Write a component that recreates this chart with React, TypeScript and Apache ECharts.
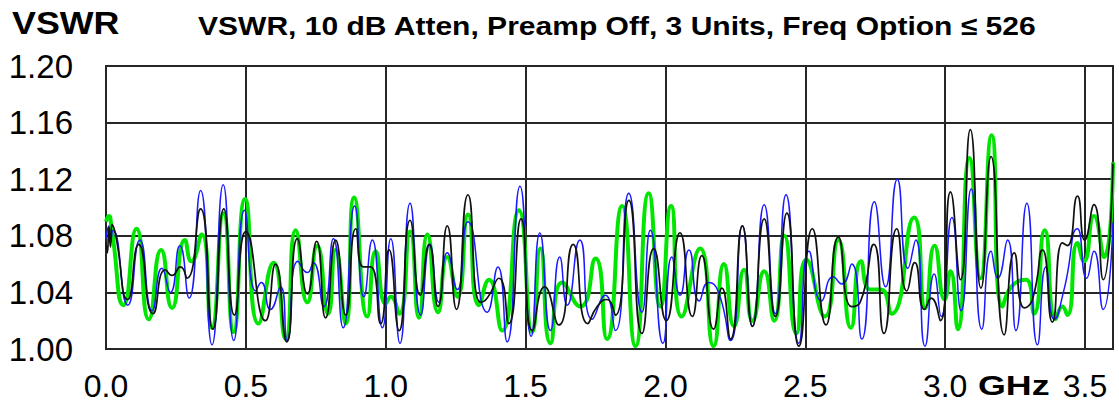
import React, { useEffect, useRef } from "react";
import * as echarts from "echarts";

const chartTitle = "VSWR, 10 dB Atten, Preamp Off, 3 Units, Freq Option ≤ 526";
const yAxisTitle = "VSWR";
const xAxisUnit = "GHz";

const xTicks = [0, 0.5, 1.0, 1.5, 2.0, 2.5, 3.0, 3.5];
const yTicks = [1.0, 1.04, 1.08, 1.12, 1.16, 1.2];

// [frequency GHz, VSWR]
const blackUnit = [
  [0.0, 1.075], [0.005, 1.068], [0.010, 1.086], [0.016, 1.072], [0.021, 1.088], [0.033, 1.082],
  [0.078, 1.035], [0.117, 1.074], [0.168, 1.025], [0.212, 1.056], [0.236, 1.052], [0.266, 1.058],
  [0.290, 1.050], [0.338, 1.099], [0.382, 1.014], [0.421, 1.099], [0.459, 1.024], [0.500, 1.083],
  [0.570, 1.020], [0.606, 1.060], [0.646, 1.005], [0.684, 1.078], [0.720, 1.039], [0.753, 1.076],
  [0.785, 1.022], [0.821, 1.077], [0.857, 1.024], [0.893, 1.085], [0.920, 1.058], [0.946, 1.058],
  [0.982, 1.018], [1.012, 1.070], [1.048, 1.013], [1.087, 1.091], [1.123, 1.038], [1.155, 1.074],
  [1.187, 1.030], [1.220, 1.087], [1.253, 1.028], [1.294, 1.109], [1.339, 1.033], [1.363, 1.036],
  [1.405, 1.050], [1.440, 1.018], [1.484, 1.092], [1.524, 1.013], [1.568, 1.044], [1.619, 1.017],
  [1.670, 1.074], [1.722, 1.018], [1.756, 1.030], [1.791, 1.035], [1.821, 1.024], [1.869, 1.105],
  [1.916, 1.011], [1.958, 1.071], [2.003, 1.020], [2.052, 1.082], [2.096, 1.023], [2.130, 1.066],
  [2.172, 1.014], [2.202, 1.043], [2.233, 1.007], [2.275, 1.087], [2.311, 1.016], [2.353, 1.092],
  [2.393, 1.023], [2.434, 1.096], [2.477, 1.002], [2.525, 1.085], [2.574, 1.017], [2.618, 1.079],
  [2.666, 1.030], [2.696, 1.033], [2.745, 1.074], [2.781, 1.011], [2.827, 1.085], [2.863, 1.041],
  [2.891, 1.061], [2.926, 1.028], [2.950, 1.036], [2.983, 1.020], [3.019, 1.111], [3.055, 1.049],
  [3.090, 1.155], [3.128, 1.043], [3.164, 1.136], [3.211, 1.010], [3.247, 1.068], [3.283, 1.029],
  [3.312, 1.035], [3.348, 1.070], [3.383, 1.019], [3.419, 1.075], [3.437, 1.073], [3.473, 1.108],
  [3.499, 1.077], [3.532, 1.102], [3.565, 1.049], [3.600, 1.131],
];

const blueUnit = [
  [0.0, 1.078], [0.010, 1.087], [0.016, 1.075], [0.025, 1.084], [0.078, 1.031], [0.121, 1.077],
  [0.165, 1.027], [0.200, 1.057], [0.230, 1.040], [0.264, 1.073], [0.297, 1.036], [0.338, 1.112],
  [0.379, 1.003], [0.419, 1.116], [0.457, 1.006], [0.495, 1.098], [0.535, 1.041], [0.555, 1.047],
  [0.588, 1.028], [0.624, 1.044], [0.648, 1.006], [0.686, 1.062], [0.720, 1.054], [0.741, 1.061],
  [0.779, 1.030], [0.813, 1.078], [0.848, 1.015], [0.889, 1.101], [0.922, 1.037], [0.952, 1.077],
  [0.988, 1.015], [1.018, 1.078], [1.051, 1.004], [1.087, 1.103], [1.125, 1.024], [1.158, 1.074],
  [1.190, 1.033], [1.220, 1.068], [1.256, 1.042], [1.294, 1.090], [1.363, 1.026], [1.401, 1.058],
  [1.434, 1.005], [1.480, 1.115], [1.520, 1.009], [1.551, 1.082], [1.589, 1.013], [1.622, 1.065],
  [1.649, 1.031], [1.694, 1.077], [1.738, 1.021], [1.785, 1.038], [1.821, 1.013], [1.869, 1.110],
  [1.916, 1.026], [1.946, 1.084], [1.991, 1.004], [2.023, 1.065], [2.052, 1.038], [2.084, 1.070],
  [2.121, 1.034], [2.154, 1.047], [2.190, 1.040], [2.233, 1.006], [2.275, 1.087], [2.311, 1.016],
  [2.353, 1.102], [2.393, 1.025], [2.431, 1.109], [2.477, 1.004], [2.513, 1.069], [2.558, 1.034],
  [2.600, 1.051], [2.630, 1.046], [2.666, 1.060], [2.702, 1.007], [2.747, 1.104], [2.787, 1.044],
  [2.829, 1.120], [2.867, 1.057], [2.895, 1.077], [2.928, 1.002], [2.961, 1.053], [2.986, 1.023],
  [3.024, 1.093], [3.057, 1.027], [3.093, 1.113], [3.131, 1.014], [3.164, 1.069], [3.188, 1.050],
  [3.223, 1.077], [3.253, 1.013], [3.292, 1.103], [3.330, 1.003], [3.360, 1.058], [3.390, 1.021],
  [3.425, 1.042], [3.473, 1.085], [3.506, 1.050], [3.532, 1.069], [3.565, 1.028], [3.600, 1.089],
];

const greenUnit = [
  [0.0, 1.090], [0.010, 1.094], [0.020, 1.085], [0.063, 1.031], [0.109, 1.085], [0.153, 1.021],
  [0.197, 1.070], [0.236, 1.029], [0.282, 1.077], [0.305, 1.062], [0.342, 1.081], [0.378, 1.015],
  [0.420, 1.096], [0.456, 1.012], [0.497, 1.106], [0.545, 1.018], [0.599, 1.061], [0.642, 1.007],
  [0.678, 1.084], [0.720, 1.033], [0.755, 1.073], [0.794, 1.025], [0.821, 1.070], [0.857, 1.018],
  [0.887, 1.107], [0.934, 1.023], [0.964, 1.069], [1.000, 1.032], [1.018, 1.037], [1.048, 1.025],
  [1.087, 1.083], [1.119, 1.022], [1.149, 1.081], [1.187, 1.026], [1.220, 1.065], [1.256, 1.037],
  [1.294, 1.095], [1.333, 1.031], [1.369, 1.049], [1.416, 1.013], [1.476, 1.098], [1.524, 1.012],
  [1.553, 1.071], [1.589, 1.004], [1.631, 1.047], [1.696, 1.030], [1.750, 1.064], [1.791, 1.007],
  [1.845, 1.101], [1.893, 1.002], [1.940, 1.110], [1.982, 1.030], [2.020, 1.101], [2.058, 1.023],
  [2.124, 1.071], [2.172, 1.002], [2.209, 1.060], [2.245, 1.016], [2.281, 1.056], [2.311, 1.020],
  [2.353, 1.055], [2.389, 1.020], [2.425, 1.080], [2.468, 1.011], [2.504, 1.063], [2.570, 1.023],
  [2.618, 1.077], [2.663, 1.015], [2.699, 1.062], [2.733, 1.042], [2.770, 1.042], [2.808, 1.025],
  [2.889, 1.093], [2.929, 1.029], [2.962, 1.073], [2.998, 1.035], [3.019, 1.055], [3.045, 1.014],
  [3.087, 1.135], [3.126, 1.050], [3.166, 1.151], [3.205, 1.030], [3.241, 1.045], [3.289, 1.049],
  [3.318, 1.025], [3.356, 1.084], [3.395, 1.021], [3.419, 1.030], [3.437, 1.024], [3.473, 1.075],
  [3.496, 1.062], [3.532, 1.094], [3.568, 1.065], [3.600, 1.132],
];

export default function App() {
  const ref = useRef<HTMLDivElement>(null);
  useEffect(() => {
    document.body.style.margin = "0";
    const chart = echarts.init(ref.current!, null, { renderer: "svg" });
    const font = "'Liberation Sans', Arial, sans-serif";
    const grid = "#262626";
    chart.setOption({
      animation: false,
      backgroundColor: "#fff",
      grid: {
        left: 106, top: 66, right: 6, bottom: 60,
        show: true, borderColor: grid, borderWidth: 2, backgroundColor: "transparent",
      },
      xAxis: {
        type: "value", min: xTicks[0], max: 3.6, interval: 0.5,
        axisLine: { show: false }, axisTick: { show: false },
        splitLine: { show: true, lineStyle: { color: grid, width: 2 } },
        axisLabel: {
          fontFamily: font, fontSize: 32, color: "#000", margin: 21,
          showMaxLabel: false,
          formatter: (v: number) => (xTicks.some((t) => Math.abs(t - v) < 1e-6) ? v.toFixed(1) : ""),
        },
      },
      yAxis: {
        type: "value", min: yTicks[0], max: yTicks[yTicks.length - 1], interval: 0.04,
        axisLine: { show: false }, axisTick: { show: false },
        splitLine: { show: true, lineStyle: { color: grid, width: 2 } },
        axisLabel: {
          fontFamily: font, fontSize: 33, color: "#000", margin: 33,
          formatter: (v: number) => v.toFixed(2),
        },
      },
      graphic: [
        {
          type: "text", x: 12, y: 7, scaleX: 1.12,
          style: { text: yAxisTitle, font: `bold 32px ${font}`, fill: "#000" },
        },
        {
          type: "text", x: 198, y: 13, scaleX: 1.155,
          style: { text: chartTitle, font: `bold 26px ${font}`, fill: "#000" },
        },
        {
          type: "text", x: 978, y: 371, scaleX: 1.28,
          style: { text: xAxisUnit, font: `bold 28px ${font}`, fill: "#000" },
        },
      ],
      series: [
        {
          type: "line", name: "Unit 3", data: greenUnit, showSymbol: false, smooth: 0.6,
          lineStyle: { color: "#00e600", width: 4 }, z: 2,
        },
        {
          type: "line", name: "Unit 2", data: blueUnit, showSymbol: false, smooth: 0.6,
          lineStyle: { color: "#1a1aff", width: 1.5 }, z: 3,
        },
        {
          type: "line", name: "Unit 1", data: blackUnit, showSymbol: false, smooth: 0.6,
          lineStyle: { color: "#111", width: 1.7 }, z: 4,
        },
      ],
    });
    return () => chart.dispose();
  }, []);
  return <div ref={ref} style={{ width: 1119, height: 409 }} />;
}
